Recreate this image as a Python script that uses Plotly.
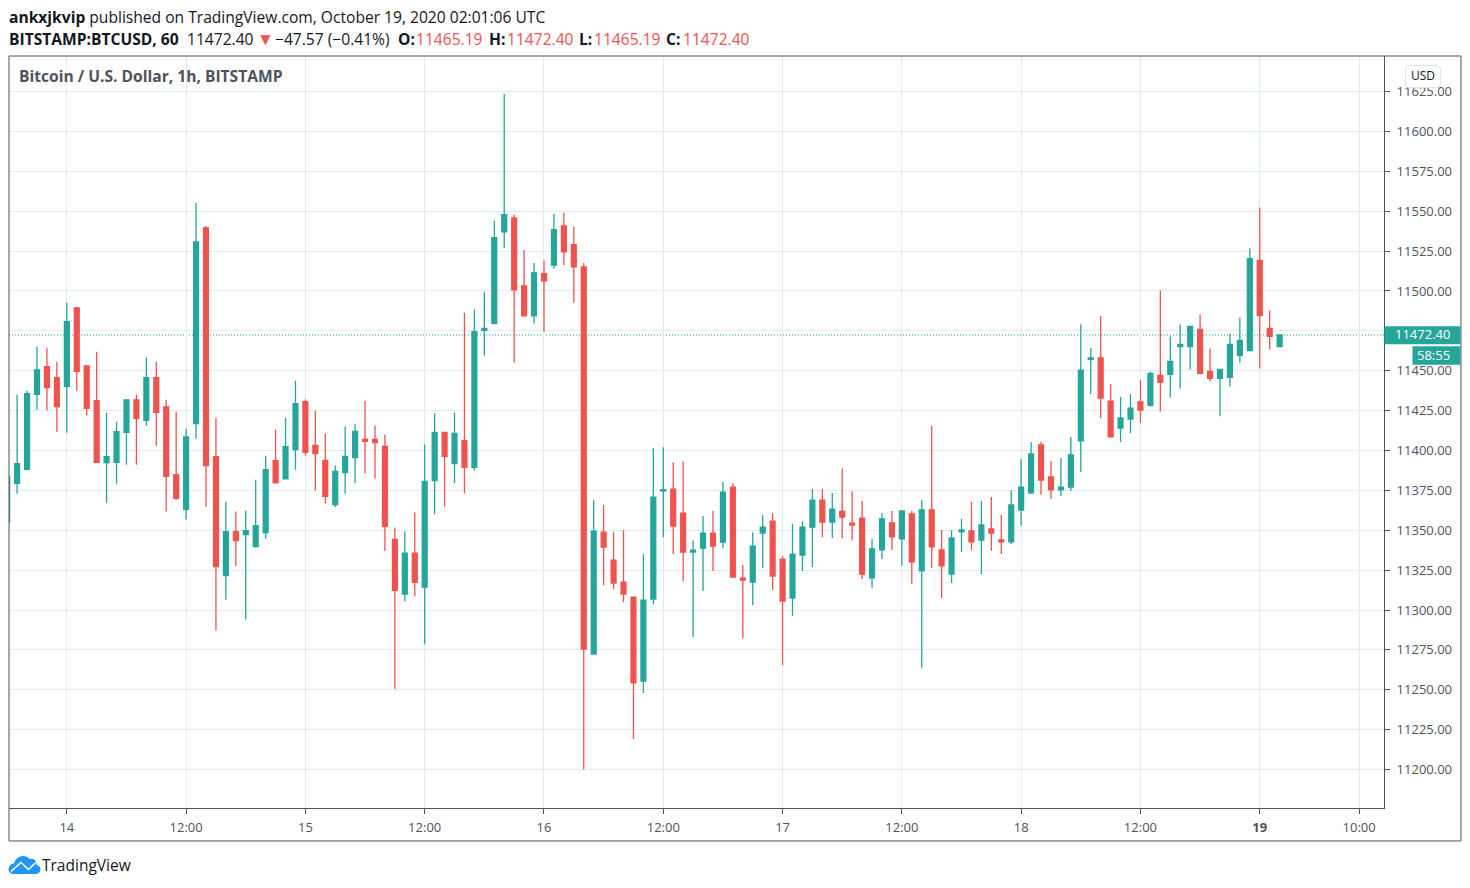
import pandas as pd
import plotly.graph_objects as go

# hourly candles, BITSTAMP:BTCUSD
opens = [11355, 11379.4, 11388.2, 11435.2, 11452.5, 11445.6, 11440.2, 11489.4, 11453.1, 11431.2,
         11392.4, 11392.6, 11411.4, 11431.8, 11418.9, 11445.6, 11427.4, 11384.8, 11363.1, 11416.8,
         11539.6, 11396.1, 11321.6, 11349.1, 11347.3, 11339.7, 11348.5, 11393.6, 11382.3, 11400.5,
         11430.7, 11403.2, 11393.8, 11366.1, 11386.2, 11395.6, 11407, 11407, 11402.5, 11344.3,
         11310, 11335.7, 11314.4, 11381.2, 11411.4, 11391.8, 11406.2, 11389.4, 11475.3, 11479.5,
         11537.1, 11545.8, 11503.2, 11484.4, 11510.9, 11516.3, 11540.8, 11529, 11515.1, 11272.4,
         11348.8, 11331.3, 11317.5, 11308.1, 11255.5, 11306.9, 11374.6, 11375.8, 11360.7, 11336.3,
         11338.8, 11348.2, 11342.6, 11377, 11320, 11317.5, 11348.2, 11355.7, 11331.9, 11307.5,
         11334.4, 11352, 11368.9, 11355.1, 11362, 11354.5, 11357.6, 11320.1, 11337.7, 11354.6,
         11344.6, 11360.2, 11324.5, 11362.7, 11337.7, 11322.6, 11349, 11349.6, 11343.9, 11350.8,
         11343.9, 11342.7, 11362.7, 11373.4, 11403.5, 11383.4, 11375.3, 11377.1, 11406, 11457.2,
         11458, 11431, 11414.1, 11419.7, 11430.4, 11428.3, 11447.1, 11447.7, 11465.2, 11465.2,
         11475.9, 11449.6, 11445.2, 11445.8, 11459.6, 11462.7, 11519.1, 11476.5, 11465.19]
highs = [11384, 11435, 11437.5, 11465, 11464.4, 11455.6, 11492.6, 11490, 11453.1, 11461.9,
         11423.7, 11418, 11431.8, 11435, 11458.1, 11455.6, 11431.8, 11424.3, 11413.7, 11555.2,
         11540.8, 11420.5, 11367.9, 11361.7, 11362.3, 11381.7, 11396.7, 11413, 11420.5, 11443.7,
         11432, 11425, 11410.7, 11390.6, 11415.1, 11416.8, 11431.2, 11415.6, 11410, 11351.8,
         11349.3, 11361.2, 11403.7, 11423.3, 11411.4, 11423.8, 11486.4, 11488.4, 11499.5, 11544.1,
         11623.5, 11547.8, 11525.7, 11517.6, 11519.1, 11548.3, 11549, 11540.3, 11517.6, 11368.9,
         11365.8, 11348.8, 11350.1, 11308.1, 11335.1, 11401.5, 11402, 11392.7, 11393.3, 11343.8,
         11358.9, 11362, 11380.2, 11379.5, 11328.2, 11348.8, 11359.5, 11360.7, 11333.8, 11353.9,
         11355.7, 11375.8, 11375.8, 11373.3, 11388.9, 11374.5, 11368.3, 11344.6, 11360.9, 11362.1,
         11362.1, 11362.1, 11369, 11415.4, 11350.2, 11350.2, 11357.1, 11367.7, 11368.4, 11370.9,
         11359.6, 11375.3, 11394.7, 11405.3, 11405.3, 11393.4, 11395.3, 11408.5, 11479.2, 11464.2,
         11484.3, 11441.7, 11433.5, 11435.4, 11444.2, 11449.6, 11500.3, 11471.5, 11479, 11477.8,
         11485.3, 11464, 11450.8, 11473.4, 11483.4, 11526.6, 11552.3, 11487.8, 11472.4]
lows = [11355, 11373, 11388, 11425.6, 11425, 11411.8, 11411.1, 11437.5, 11421.8, 11392.6,
        11367.3, 11379.2, 11391.1, 11391.1, 11415.5, 11403, 11361.7, 11369.2, 11356.7, 11407.4,
        11364.8, 11287.1, 11306.5, 11327.8, 11294, 11339, 11344.7, 11379.8, 11382.3, 11388,
        11396.8, 11375, 11366.8, 11364.6, 11373, 11379.5, 11385.7, 11382.4, 11337, 11250.5,
        11305.5, 11308.7, 11278.5, 11360, 11364.9, 11379.5, 11373, 11387.4, 11459.4, 11479.5,
        11527, 11455.2, 11484.4, 11479.5, 11474.5, 11513.9, 11516.3, 11492.6, 11200, 11272.4,
        11315.6, 11313.1, 11305, 11219.2, 11248, 11303.7, 11345.7, 11335.1, 11318.2, 11283.1,
        11311.9, 11324.4, 11338.8, 11320.7, 11282.4, 11303.1, 11326.3, 11312.5, 11265.5, 11296.2,
        11324.4, 11326.9, 11345.7, 11345.1, 11345.1, 11343.8, 11319.4, 11313.9, 11332, 11337.7,
        11327.7, 11316.4, 11263.8, 11326.4, 11307.6, 11317, 11336.4, 11337.7, 11322.6, 11337.1,
        11335.2, 11341.4, 11352.7, 11372.8, 11372.2, 11369.6, 11371.5, 11374.6, 11386.5, 11435.4,
        11420.4, 11408.5, 11405.3, 11411, 11417.2, 11427.6, 11424.5, 11433.3, 11438.9, 11450.8,
        11448.3, 11443.3, 11421.4, 11440.2, 11455.2, 11462.1, 11451.4, 11463.3, 11465.19]
closes = [11383.6, 11391.7, 11435.6, 11450.6, 11439.5, 11427.6, 11480.7, 11449.6, 11426.4, 11392.6,
          11396.1, 11411.8, 11431.8, 11420.1, 11445.6, 11423.9, 11383.8, 11370, 11408.6, 11530.8,
          11390.5, 11327.2, 11349.1, 11343.5, 11349.8, 11352.9, 11388, 11379.8, 11402.4, 11429.3,
          11398.8, 11398, 11371.3, 11386.9, 11396.3, 11411.9, 11405.7, 11405, 11352.5, 11312.4,
          11335.7, 11317.3, 11380.7, 11411.4, 11396.3, 11410.7, 11389.4, 11474.5, 11476.5, 11533.4,
          11547.8, 11500.7, 11484.4, 11511.4, 11506.4, 11538.4, 11524.5, 11515.1, 11275.5, 11349.5,
          11339.4, 11316.9, 11310, 11254.3, 11306.2, 11370.8, 11375.4, 11352.6, 11336.3, 11337.6,
          11348.2, 11340.1, 11373.9, 11320.7, 11318.8, 11340.1, 11352, 11321.3, 11305.6, 11335.1,
          11352, 11368.9, 11355.1, 11363.3, 11358.2, 11353.2, 11322.5, 11338.3, 11357.1, 11345.8,
          11362.1, 11330.2, 11362.7, 11339.6, 11327.7, 11345.2, 11350.2, 11342.7, 11353.3, 11348.3,
          11342.7, 11365.9, 11377.1, 11397.8, 11381.5, 11375.3, 11377.1, 11397.2, 11450.4, 11458,
          11432.9, 11408.5, 11420.4, 11426.6, 11425.4, 11448.3, 11442.7, 11455.8, 11466.5, 11477.8,
          11448.3, 11445.2, 11450.8, 11466.5, 11469, 11520.3, 11484.6, 11471.5, 11472.4]

times = pd.date_range("2020-10-13 18:00", periods=len(opens), freq="h")

x_ticks = ["2020-10-14 00:00", "2020-10-14 12:00", "2020-10-15 00:00", "2020-10-15 12:00",
           "2020-10-16 00:00", "2020-10-16 12:00", "2020-10-17 00:00", "2020-10-17 12:00",
           "2020-10-18 00:00", "2020-10-18 12:00", "2020-10-19 00:00", "2020-10-19 10:00"]
x_labels = ["14", "12:00", "15", "12:00", "16", "12:00", "17", "12:00", "18", "12:00", "<b>19</b>", "10:00"]
y_ticks = [11200, 11225, 11250, 11275, 11300, 11325, 11350, 11375, 11400, 11425,
           11450, 11475, 11500, 11525, 11550, 11575, 11600, 11625]
y_labels = ["11200.00", "11225.00", "11250.00", "11275.00", "11300.00", "11325.00", "11350.00",
            "11375.00", "11400.00", "11425.00", "11450.00", "", "11500.00", "11525.00",
            "11550.00", "11575.00", "11600.00", "11625.00"]
last_price = 11472.40

UP = "#26a69a"
DOWN = "#ef5350"
FRAME = "#50535e"
GRID = "#e1ecf2"
INK = "#131722"
FONT = "Open Sans"

# body margin is dropped in the page, so figure pixels are page pixels
FIG_W, FIG_H = 1466, 884
# plot pane
LEFT, RIGHT, TOP, BOTTOM = 8.5, 1384.5, 55.5, 808


def px(x):
    return (x - LEFT) / (RIGHT - LEFT)


def py(y):
    return (BOTTOM - y) / (BOTTOM - TOP)


def path(cmds):
    out = ""
    for c in cmds:
        out += c[0]
        pts = c[1:]
        out += " ".join("%.5f,%.5f" % (px(pts[i]), py(pts[i + 1])) for i in range(0, len(pts), 2)) + " "
    return out + "Z"


def round_rect(x0, y0, x1, y1, r):
    return path([("M", x0 + r, y0), ("L", x1 - r, y0), ("Q", x1, y0, x1, y0 + r), ("L", x1, y1 - r),
                 ("Q", x1, y1, x1 - r, y1), ("L", x0 + r, y1), ("Q", x0, y1, x0, y1 - r),
                 ("L", x0, y0 + r), ("Q", x0, y0, x0 + r, y0)])


fig = go.Figure(go.Candlestick(
    x=times, open=opens, high=highs, low=lows, close=closes,
    increasing=dict(line=dict(color=UP, width=1.3), fillcolor=UP),
    decreasing=dict(line=dict(color=DOWN, width=1.3), fillcolor=DOWN),
    showlegend=False,
))

fig.update_layout(
    width=FIG_W, height=FIG_H, autosize=False,
    margin=dict(l=LEFT, r=FIG_W - RIGHT, t=TOP, b=FIG_H - BOTTOM, pad=0),
    paper_bgcolor="white", plot_bgcolor="white",
    font=dict(family=FONT, size=13, color=FRAME),
    boxgap=0.3,
)
fig.update_xaxes(
    type="date", range=["2020-10-13 18:11", "2020-10-19 12:30"],
    rangeslider_visible=False,
    tickmode="array", tickvals=x_ticks, ticktext=x_labels,
    showgrid=True, gridcolor=GRID, gridwidth=1,
    ticks="outside", ticklen=5, tickcolor=FRAME,
    showline=True, linecolor=FRAME, linewidth=1,
    tickfont=dict(size=13, color=FRAME), zeroline=False,
    ticklabelstandoff=2,
)
fig.update_yaxes(
    side="right", range=[11175.9, 11647.3],
    tickmode="array", tickvals=y_ticks, ticktext=y_labels,
    showgrid=True, gridcolor=GRID, gridwidth=1,
    ticks="outside", ticklen=5, tickcolor=FRAME,
    showline=True, linecolor=FRAME, linewidth=1,
    tickfont=dict(size=13, color=FRAME), zeroline=False,
    ticklabelstandoff=4,
)

# last price line under the candles
fig.add_shape(type="line", xref="paper", yref="y", x0=0, x1=1, y0=last_price, y1=last_price,
              line=dict(color=UP, width=1, dash="1px,2px"), layer="below")

# outer frame
fig.add_shape(type="rect", xref="paper", yref="paper", x0=px(8.5), x1=px(1461.5), y0=py(841), y1=py(55.5),
              line=dict(color=FRAME, width=1), fillcolor="rgba(0,0,0,0)")

# price tags on the axis
fig.add_shape(type="rect", xref="paper", yref="paper", x0=px(1385), x1=px(1461), y0=py(344), y1=py(326),
              fillcolor=UP, line_width=0)
fig.add_shape(type="rect", xref="paper", yref="paper", x0=px(1413), x1=px(1461), y0=py(364.5), y1=py(346),
              fillcolor=UP, line_width=0)
# USD button
fig.add_shape(type="path", xref="paper", yref="paper", path=round_rect(1406, 65, 1441, 87, 4),
              fillcolor="white", line=dict(color="#e0e3eb", width=1))

# logo
fig.add_shape(type="path", xref="paper", yref="paper",
              path=path([("M", 12, 874), ("C", 6, 873, 7, 864, 14, 863), ("C", 15, 857, 24, 853, 29, 859),
                         ("C", 34, 858, 37, 862, 36, 865), ("C", 42, 866, 41, 874, 35, 874)]),
              fillcolor="#2196f3", line_width=0)
fig.add_shape(type="path", xref="paper", yref="paper",
              path="M%.5f,%.5f L%.5f,%.5f L%.5f,%.5f L%.5f,%.5f" % (px(10.5), py(871.5), px(20.5), py(862.5),
                                                                    px(28), py(869.5), px(38), py(860)),
              line=dict(color="white", width=1.5))


def label(x, y, text, size=15.6, color=INK, xanchor="left", family=FONT):
    fig.add_annotation(xref="paper", yref="paper", x=px(x), y=py(y), text=text, showarrow=False,
                       xanchor=xanchor, yanchor="middle", align="left",
                       font=dict(family=family, size=size, color=color), borderpad=0, borderwidth=0)


label(8, 16, "<b>ankxjkvip</b> published on TradingView.com, October 19, 2020 02:01:06 UTC")
label(8, 38, "<b>BITSTAMP:BTCUSD, 60</b>")
label(187, 38, "11472.40")
label(257, 38, "▼", size=17, color=DOWN)
label(275, 38, "−47.57 (−0.41%)")
label(398, 38, "<b>O:</b>")
label(416, 38, "11465.19", color=DOWN)
label(489, 38, "<b>H:</b>")
label(507, 38, "11472.40", color=DOWN)
label(579, 38, "<b>L:</b>")
label(594, 38, "11465.19", color=DOWN)
label(666, 38, "<b>C:</b>")
label(683, 38, "11472.40", color=DOWN)
label(19, 76, "<b>Bitcoin / U.S. Dollar, 1h, BITSTAMP</b>", color=FRAME)
label(1396, 334, "11472.40", size=13, color="white")
label(1418, 354.5, "58:55", size=13, color="white")
label(1423.5, 75.5, "USD", size=12, xanchor="center")
label(42, 865, "TradingView", size=15.5)

fig.write_html("out.html", config={"displayModeBar": False},
               post_script="document.body.style.margin='0';")
